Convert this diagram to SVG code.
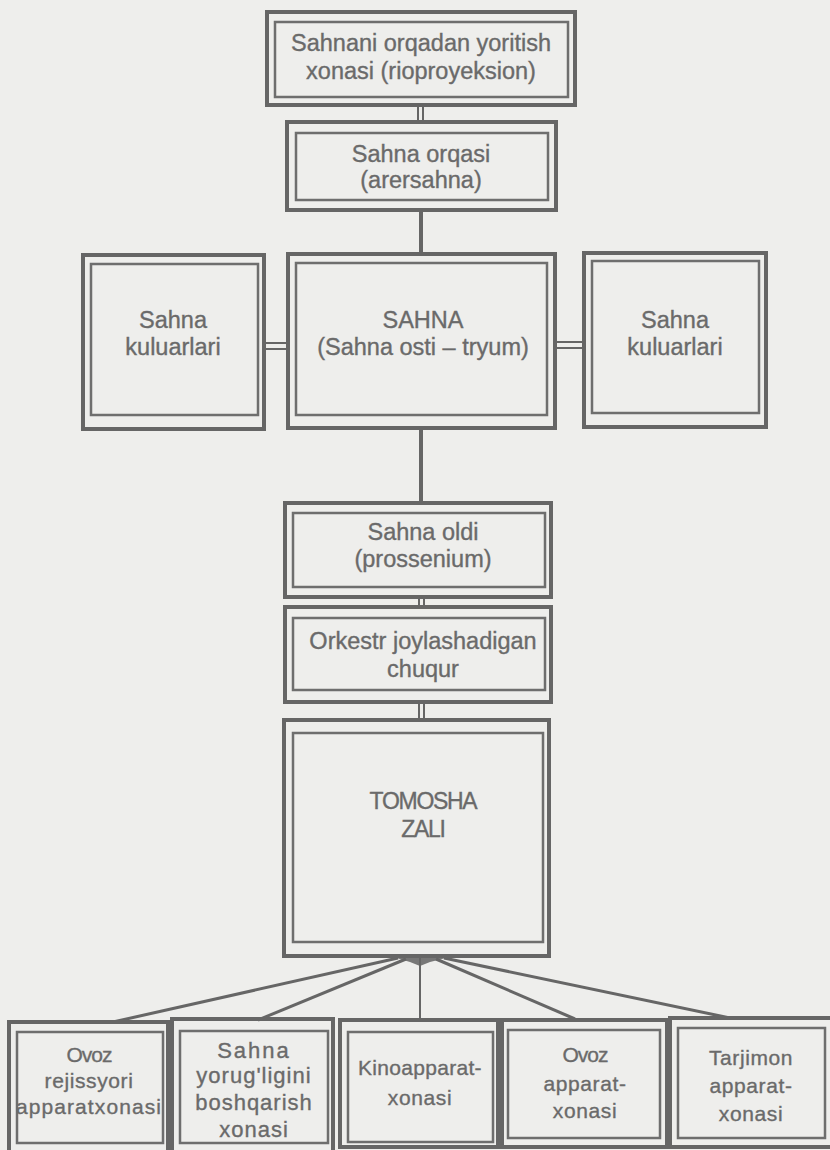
<svg xmlns="http://www.w3.org/2000/svg" width="830" height="1150" viewBox="0 0 830 1150">
<style>
.o{fill:none;stroke:#666;stroke-width:4}
.i{fill:none;stroke:#6e6e6e;stroke-width:2.5}
.t{font-family:"Liberation Sans",Arial,sans-serif;font-size:23.5px;fill:#6a6a6a;stroke:#6a6a6a;stroke-width:0.35;text-anchor:middle}
.tc{font-family:"Liberation Sans",Arial,sans-serif;font-size:23px;fill:#6a6a6a;stroke:#6a6a6a;stroke-width:0.35;text-anchor:middle;letter-spacing:-1.3px}
.b{font-family:"Liberation Sans",Arial,sans-serif;font-size:21px;fill:#6a6a6a;stroke:#6a6a6a;stroke-width:0.35;text-anchor:middle;letter-spacing:0.6px}
.c{stroke:#666;fill:none}
</style>
<rect width="830" height="1150" fill="#eeeeec"/>
<g id="connectors">
<line class="c" x1="418" y1="105" x2="418" y2="122" stroke-width="2"/>
<line class="c" x1="423" y1="105" x2="423" y2="122" stroke-width="2"/>
<line class="c" x1="421" y1="210" x2="421" y2="254" stroke-width="4"/>
<line class="c" x1="264" y1="343" x2="288" y2="343" stroke-width="2"/>
<line class="c" x1="264" y1="349" x2="288" y2="349" stroke-width="2"/>
<line class="c" x1="555" y1="342" x2="584" y2="342" stroke-width="2"/>
<line class="c" x1="555" y1="348" x2="584" y2="348" stroke-width="2"/>
<line class="c" x1="421" y1="428" x2="421" y2="503" stroke-width="4"/>
<line class="c" x1="419" y1="597" x2="419" y2="607" stroke-width="2"/>
<line class="c" x1="424" y1="597" x2="424" y2="607" stroke-width="2"/>
<line class="c" x1="419" y1="702" x2="419" y2="720" stroke-width="2"/>
<line class="c" x1="424" y1="702" x2="424" y2="720" stroke-width="2"/>
<polygon points="393,957 450,957 430,962 420,966 410,962" fill="#777"/>
<line class="c" x1="398" y1="958" x2="113" y2="1022" stroke-width="3"/>
<line class="c" x1="406" y1="959" x2="258" y2="1020" stroke-width="3"/>
<line class="c" x1="420" y1="958" x2="420" y2="1020" stroke-width="2"/>
<line class="c" x1="436" y1="959" x2="575" y2="1019" stroke-width="3"/>
<line class="c" x1="444" y1="958" x2="730" y2="1018" stroke-width="3"/>
</g>
<g id="n1">
<rect class="o" x="267" y="12" width="308" height="93"/>
<rect class="i" x="275" y="22" width="293" height="75"/>
<text class="t" x="421" y="51">Sahnani orqadan yoritish</text>
<text class="t" x="421" y="79">xonasi (rioproyeksion)</text>
</g>
<g id="n2">
<rect class="o" x="287" y="122" width="269" height="88"/>
<rect class="i" x="296" y="133" width="252" height="67"/>
<text class="t" x="421" y="162">Sahna orqasi</text>
<text class="t" x="421" y="188">(arersahna)</text>
</g>
<g id="n3">
<rect class="o" x="83" y="255" width="181" height="174"/>
<rect class="i" x="91" y="264" width="167" height="151"/>
<text class="t" x="173" y="328">Sahna</text>
<text class="t" x="173" y="355">kuluarlari</text>
</g>
<g id="n4">
<rect class="o" x="288" y="254" width="267" height="174"/>
<rect class="i" x="296" y="263" width="251" height="152"/>
<text class="t" x="423" y="328">SAHNA</text>
<text class="t" x="423" y="355">(Sahna osti – tryum)</text>
</g>
<g id="n5">
<rect class="o" x="584" y="253" width="182" height="174"/>
<rect class="i" x="592" y="261" width="167" height="152"/>
<text class="t" x="675" y="328">Sahna</text>
<text class="t" x="675" y="355">kuluarlari</text>
</g>
<g id="n6">
<rect class="o" x="285" y="503" width="266" height="94"/>
<rect class="i" x="293" y="513" width="252" height="74"/>
<text class="t" x="423" y="540">Sahna oldi</text>
<text class="t" x="423" y="567">(prossenium)</text>
</g>
<g id="n7">
<rect class="o" x="285" y="607" width="266" height="95"/>
<rect class="i" x="293" y="618" width="252" height="72"/>
<text class="t" x="423" y="649">Orkestr joylashadigan</text>
<text class="t" x="423" y="677">chuqur</text>
</g>
<g id="n8">
<rect class="o" x="284" y="720" width="265" height="236"/>
<rect class="i" x="293" y="733" width="250" height="209"/>
<text class="tc" x="423" y="809">TOMOSHA</text>
<text class="tc" x="423" y="837">ZALI</text>
</g>
<g id="n9">
<rect class="o" x="9" y="1022" width="159" height="130"/>
<rect class="i" x="17" y="1032" width="146" height="111"/>
<text class="b" x="89" y="1062" style="letter-spacing:-1px">Ovoz</text>
<text class="b" x="89" y="1088">rejissyori</text>
<text class="b" x="89" y="1114" style="letter-spacing:1.1px">apparatxonasi</text>
</g>
<g id="n10">
<rect class="o" x="172" y="1019" width="161" height="133"/>
<rect class="i" x="180" y="1031" width="148" height="112"/>
<text class="b" x="254" y="1058" style="font-size:22px;letter-spacing:2px">Sahna</text>
<text class="b" x="254" y="1083" style="font-size:22px;letter-spacing:1px">yorug'ligini</text>
<text class="b" x="254" y="1110" style="font-size:22px;letter-spacing:1px">boshqarish</text>
<text class="b" x="254" y="1137" style="font-size:22px;letter-spacing:1px">xonasi</text>
</g>
<g id="n11">
<rect class="o" x="340" y="1020" width="158" height="127"/>
<rect class="i" x="348" y="1032" width="145" height="110"/>
<text class="b" x="420" y="1075" style="letter-spacing:0.3px">Kinoapparat-</text>
<text class="b" x="420" y="1105">xonasi</text>
</g>
<g id="n12">
<rect class="o" x="502" y="1020" width="165" height="127"/>
<rect class="i" x="508" y="1030" width="152" height="108"/>
<text class="b" x="585" y="1062" style="letter-spacing:-1px">Ovoz</text>
<text class="b" x="585" y="1091">apparat-</text>
<text class="b" x="585" y="1118">xonasi</text>
</g>
<g id="n13">
<rect class="o" x="670" y="1018" width="162" height="129"/>
<rect class="i" x="678" y="1028" width="147" height="110"/>
<text class="b" x="751" y="1065">Tarjimon</text>
<text class="b" x="751" y="1093">apparat-</text>
<text class="b" x="751" y="1121">xonasi</text>
</g>
</svg>
